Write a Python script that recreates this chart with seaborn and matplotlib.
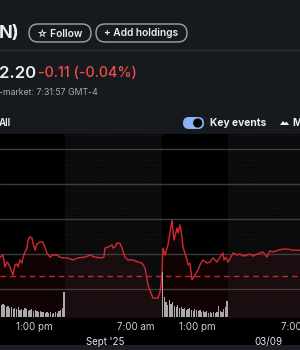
import matplotlib
matplotlib.use("Agg")
import matplotlib.pyplot as plt
from matplotlib.patches import FancyBboxPatch, Rectangle, Circle, Polygon
import numpy as np
import pandas as pd
import seaborn as sns

# ---------------- data ----------------
# trading-time hours since 9:30 am of day 1 (overnight gap collapsed)
hours = [0.13, 0.42, 0.62, 0.81, 0.91, 1.11, 1.40, 1.60, 1.80, 1.89, 2.09, 2.29, 2.38,
         2.58, 2.78, 2.88, 3.07, 3.27, 3.37, 3.56, 3.76, 3.86, 4.05, 4.35, 4.54, 4.74,
         5.03, 5.33, 5.72, 6.02, 6.31, 6.70, 7.29, 7.78, 8.47, 8.96, 9.45, 10.14, 10.33,
         10.43, 10.73, 11.12, 11.22, 11.41, 11.61, 11.90, 12.10, 12.39, 12.69, 13.18,
         13.67, 14.06, 14.36, 14.66, 15.14, 15.63, 15.83, 15.93, 16.03, 16.12, 16.32,
         16.61, 17.01, 17.20, 17.50, 17.60, 17.79, 17.99, 18.09, 18.48, 18.58, 18.77,
         18.97, 19.26, 19.56, 19.75, 20.05, 20.44, 20.74, 21.03, 21.42, 21.72, 22.01,
         22.11, 22.31, 22.50, 22.90, 23.00, 23.39, 23.68, 23.98, 24.37, 24.66, 24.96,
         25.35, 25.64, 25.94, 26.33, 26.62, 26.92, 27.41, 27.90, 28.39, 28.88, 29.57]
prices = [239.91, 239.97, 239.63, 239.77, 239.74, 239.63, 239.40, 239.69, 239.71, 239.63,
          239.83, 239.74, 239.89, 240.06, 240.17, 240.40, 240.49, 240.46, 240.31, 240.11,
          240.29, 240.31, 240.34, 240.34, 240.20, 240.03, 239.91, 239.97, 239.97, 239.91,
          239.89, 239.89, 239.83, 239.89, 239.91, 239.97, 239.91, 239.89, 239.91, 240.17,
          240.20, 240.26, 240.17, 240.20, 240.31, 240.31, 240.17, 239.91, 239.83, 239.83,
          239.77, 239.74, 239.60, 239.11, 238.74, 238.74, 238.91, 239.11, 239.49, 240.17,
          239.97, 240.26, 240.97, 240.40, 240.74, 240.60, 240.83, 240.49, 240.20, 239.83,
          239.69, 239.74, 239.26, 239.40, 239.54, 239.69, 239.83, 239.74, 239.77, 239.89,
          239.77, 239.91, 240.03, 239.83, 239.91, 239.77, 239.97, 240.03, 239.97, 240.00,
          239.94, 239.97, 240.00, 239.94, 240.00, 240.03, 240.06, 239.91, 240.09, 240.06,
          240.11, 240.14, 240.14, 240.11, 240.11]
prev_close = 239.36
grid_prices = [239, 240, 241, 242, 243]

vol_day1 = [19, 12, 13, 12, 10, 11, 9, 10, 8, 9, 8, 10, 7, 8, 7, 9, 8, 6, 7, 8,
            6, 7, 6, 5, 6, 5, 5, 4, 5, 4, 5, 3, 4, 5, 4, 6, 7, 9, 25]
vol_day2 = [45, 20, 15, 12, 17, 13, 15, 11, 10, 12, 9, 10, 8, 9, 7, 8, 9, 7, 6, 8,
            7, 6, 7, 5, 6, 5, 6, 4, 5, 4, 5, 4, 5, 11, 6, 5, 8, 10, 16]
session_starts = [0.0, 16.0]          # 9:30 am of each day
ext_sessions = [(6.5, 16.0), (22.5, 30.0)]

tick_hours = [3.5, 13.5, 19.5, 29.5]
tick_labels = ["1:00 pm", "7:00 am", "1:00 pm", "7:00 am"]
date_hours = [10.5, 26.5]
date_labels = ["Sept '25", "03/09"]

# ---------------- style ----------------
sns.set_theme(style="dark")
plt.rcParams['font.family'] = ['Inter', 'DejaVu Sans']
plt.rcParams['hatch.linewidth'] = 0.5

W, H = 300, 350
fig = plt.figure(figsize=(3, 3.5), dpi=100)
fig.patch.set_facecolor('#16191d')

# chrome / background layer in pixel coordinates
bg = fig.add_axes([0, 0, 1, 1], zorder=0)
bg.set_xlim(0, W)
bg.set_ylim(H, 0)
bg.set_axis_off()
bg.add_patch(Rectangle((0, 134), W, 211, facecolor='black', lw=0))
bg.add_patch(Rectangle((0, 345), W, 5, facecolor='#1b1e22', lw=0))

txt = '#eceef0'
bg.text(-1, 33, "N)", color=txt, fontsize=13, fontweight='bold', va='center', ha='left')
for (x0, w, label) in [(29, 62, "☆ Follow"), (96, 91, "+ Add holdings")]:
    bg.add_patch(FancyBboxPatch((x0, 24), w, 18, boxstyle="round,pad=0,rounding_size=9",
                                facecolor='none', edgecolor='#a0a4a8', lw=1))
    bg.text(x0 + w / 2, 33.5, label, color=txt, fontsize=7.3, fontweight='semibold',
            va='center', ha='center', family=['Inter', 'DejaVu Sans'])
bg.plot([0, W], [50, 50], color='#2e3237', lw=1)
bg.text(-1, 73, "2.20", color=txt, fontsize=12, fontweight='semibold', va='center', ha='left')
bg.text(38.5, 73, "-0.11 (-0.04%)", color='#ef4d47', fontsize=10.3, fontweight='medium',
        va='center', ha='left')
bg.text(-1, 92.5, "-market: 7:31:57 GMT-4", color='#a8acb0', fontsize=6.3, va='center', ha='left')
bg.text(-1, 122.5, "All", color=txt, fontsize=7, fontweight='semibold', va='center', ha='left')
bg.add_patch(FancyBboxPatch((183, 117), 21, 12, boxstyle="round,pad=0,rounding_size=6",
                            facecolor='#8ab4f8', lw=0))
bg.add_patch(Circle((197.7, 123), 4.6, facecolor='black', lw=0))
bg.text(210, 123, "Key events", color=txt, fontsize=7.4, fontweight='bold', va='center', ha='left')
bg.add_patch(Polygon([(280, 125), (283, 121), (285, 123), (286.5, 121.5), (289, 125)],
                     closed=True, facecolor=txt, lw=0))
bg.text(292, 123, "M", color=txt, fontsize=7.4, fontweight='bold', va='center', ha='left')

# price axes: y pixels 134..318
ax = fig.add_axes([0, 32 / H, 1, 184 / H], zorder=1)
ax.patch.set_alpha(0)
ax.set_xlim(0.13, 29.57)
ax.set_ylim(238.1714, 243.4286)
for s in ax.spines.values():
    s.set_visible(False)

for a, b in ext_sessions:
    ax.axvspan(a, b, facecolor='#070708', hatch='........', edgecolor='#1d1d20', lw=0, zorder=0)

ax.set_yticks(grid_prices)
ax.grid(axis='y', color='#3d3d3f', lw=1)
ax.grid(axis='x', visible=False)
ax.tick_params(axis='y', length=0, labelleft=False)

ax.fill_between(hours, prices, 238.1714, color='#d02a30', alpha=0.08, lw=0, zorder=1)
ax.axhline(prev_close, color='#c3262d', lw=1, ls=(0, (4, 3)), zorder=2)
df = pd.DataFrame({"hours": hours, "price": prices})
sns.lineplot(data=df, x="hours", y="price", ax=ax, color='#d02a30', lw=1.0, sort=False,
             estimator=None, zorder=3)
ax.set_xlabel("")
ax.set_ylabel("")

ax.set_xticks(tick_hours, tick_labels)
ax.set_xticks(date_hours, date_labels, minor=True)
ax.tick_params(axis='x', which='major', length=0, pad=3, labelsize=7, labelcolor='#cfd1d3')
ax.tick_params(axis='x', which='minor', length=0, pad=14, labelsize=7, labelcolor='#e6e8ea')

# volume axes: baseline at y=317 px, 45 px tall
axv = fig.add_axes([0, 33 / H, 1, 45 / H], zorder=2, sharex=ax)
axv.patch.set_alpha(0)
axv.set_ylim(0, 45)
axv.set_axis_off()
for start, vols in zip(session_starts, [vol_day1, vol_day2]):
    t = [start + (i + 0.5) / 6 for i in range(len(vols))]
    axv.bar(t, vols, width=0.12, color='#a9a9ab', lw=0)
ax.set_xlim(0.13, 29.57)

fig.savefig("out.png", dpi=100, facecolor=fig.get_facecolor())
